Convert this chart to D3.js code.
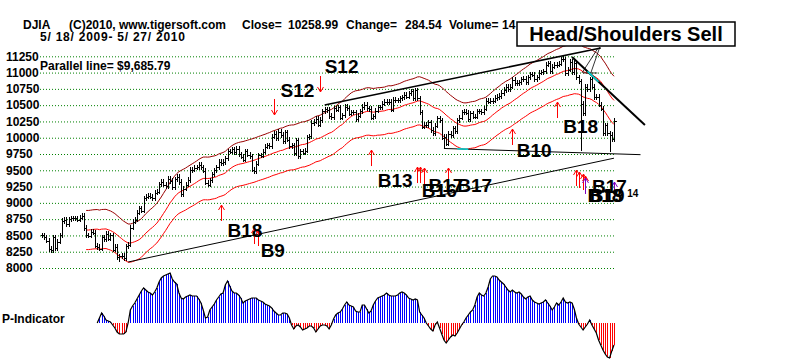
<!DOCTYPE html>
<html>
<head>
<meta charset="utf-8">
<script src="https://cdn.jsdelivr.net/npm/d3@7"></script>
<style>
    body { margin: 0; background: #fff; }
    text { font-family: "Liberation Sans", Arial, sans-serif; font-weight: bold; }
</style>
</head>
<body>
<div id="chart"></div>
<script>
// DJIA daily closes, 5/18/2009 - 5/27/2010, one list per month
var may09 = [8504, 8474, 8422, 8292, 8277, 8473, 8300, 8403, 8500];
var jun09 = [8721, 8741, 8676, 8750, 8764, 8764, 8763, 8739, 8770, 8799, 8613, 8504, 8497, 8555, 8539, 8340, 8323, 8299, 8472, 8438, 8529, 8447];
var jul09 = [8504, 8280, 8324, 8163, 8178, 8183, 8146, 8332, 8359, 8616, 8711, 8743, 8848, 8915, 8881, 9069, 9093, 9108, 9096, 9070, 9154, 9172];
var aug09 = [9286, 9320, 9280, 9256, 9370, 9337, 9241, 9362, 9398, 9321, 9135, 9217, 9279, 9350, 9505, 9509, 9539, 9543, 9580, 9544, 9496];
var sep09 = [9310, 9280, 9344, 9441, 9497, 9547, 9627, 9605, 9626, 9683, 9791, 9783, 9820, 9778, 9829, 9748, 9707, 9665, 9789, 9742, 9712];
var oct09 = [9509, 9487, 9599, 9731, 9725, 9786, 9865, 9885, 9871, 10015, 10062, 9996, 10092, 10041, 9949, 10081, 9972, 9868, 9882, 9762, 9962, 9713];
var nov09 = [9789, 9771, 9802, 10006, 10023, 10226, 10247, 10292, 10197, 10271, 10406, 10437, 10426, 10332, 10318, 10450, 10433, 10464, 10310, 10345];
var dec09 = [10471, 10452, 10366, 10388, 10390, 10286, 10337, 10405, 10471, 10501, 10452, 10441, 10309, 10328, 10414, 10464, 10466, 10520, 10547, 10545, 10548, 10428];
var jan10 = [10583, 10572, 10574, 10606, 10618, 10663, 10627, 10680, 10710, 10610, 10725, 10604, 10389, 10172, 10196, 10194, 10236, 10120, 10067];
var feb10 = [10185, 10297, 10270, 10002, 10012, 9908, 10058, 10038, 10144, 10099, 10268, 10309, 10392, 10402, 10383, 10282, 10374, 10321, 10325];
var mar10 = [10404, 10406, 10396, 10444, 10566, 10552, 10564, 10567, 10611, 10624, 10642, 10686, 10733, 10779, 10742, 10785, 10888, 10836, 10841, 10850, 10895, 10907, 10857];
var apr10 = [10927, 10974, 10969, 10897, 10927, 10997, 11005, 11019, 11123, 11144, 11019, 11092, 11117, 11124, 11134, 11205, 11205, 10991, 11045, 11167, 11008];
var may10 = [11151, 10926, 10868, 10520, 10380, 10785, 10749, 10897, 10782, 10620, 10625, 10510, 10444, 10068, 10193, 10067, 10043, 9975, 10259];

// intraday extremes that stick out of the bars: [day index, price]
var intradayLows = [[35, 8087], [182, 9835], [244, 9790], [257, 9774]];
var intradayHighs = [[236, 11258]];

// y axis tick labels
var priceTicks = [8000, 8250, 8500, 8750, 9000, 9250, 9500, 9750, 10000, 10250, 10500, 10750, 11000, 11250];

// P-Indicator, starts at day 25
var pStart = 25;
var pIndicator = [
    0, 5, 10, 7, 3, 2, 1, -2, -5, -9,
    -11, -11, -11, -9, 0, 13, 17, 20, 24, 28,
    32, 35, 33, 31, 30, 28, 31, 35, 41, 45,
    47, 48, 49, 50, 44, 41, 39, 30, 25, 24,
    26, 27, 28, 27, 27, 27, 24, 20, 13, 5,
    6, 13, 16, 19, 23, 26, 29, 30, 38, 42,
    37, 32, 30, 30, 28, 25, 20, 22, 23, 24,
    25, 25, 25, 23, 22, 21, 19, 18, 17, 15,
    12, 10, 8, 8, 10, 10, 9, 5, -2, -6,
    -3, -2, -4, -7, -6, -5, -3, -3, -5, -9,
    -6, -3, -2, -2, -3, -6, -2, 4, 8, 10,
    11, 14, 18, 21, 18, 17, 16, 12, 11, 11,
    18, 18, 14, 10, 12, 18, 22, 25, 26, 27,
    28, 30, 28, 27, 27, 27, 28, 30, 31, 30,
    28, 25, 24, 23, 24, 23, 11, 8, 5, 0,
    -3, -6, -8, -2, 1, -5, -11, -17, -20, -17,
    -14, -12, -13, -10, -6, -2, 1, 5, 8, 11,
    13, 18, 26, 30, 28, 27, 30, 36, 44, 47,
    47, 46, 43, 41, 39, 36, 33, 31, 33, 31,
    30, 31, 29, 26, 24, 26, 27, 23, 21, 20,
    19, 20, 21, 23, 20, 17, 13, 16, 20, 18,
    21, 25, 21, 20, 21, 20, 14, 5, -1, -4,
    -7, -4, -1, 3, -2, -6, -10, -17, -22, -27,
    -31, -34, -35, -28, -22
];

// signal arrows: [day index, price at arrow head]
var buyArrows = [[81, 8967], [96, 8614], [98, 8583], [149, 9811], [170, 9550], [171, 9550], [173, 9535],
    [184, 9535], [213, 10134], [233, 10548], [242, 9504], [243, 9474], [245, 9443], [246, 9412]];
var otherBuyArrows = [[246, 9382], [259, 9320]];
var sellArrows = [[126, 10702], [105, 10349]];

// signal labels: [text, day index, price at baseline]
var signalLabels = [["S12", 128, 10994], ["S12", 108, 10625], ["B18", 84, 8476], ["B9", 99, 8169],
    ["B13", 152, 9243], ["B16", 172, 9090], ["B17", 175, 9167], ["B17", 188, 9167], ["B10", 215, 9704],
    ["B18", 236, 10072], ["B17", 249, 9151], ["B18", 247, 9013], ["B19", 248, 9013]];

// trend lines: [[day, price], [day, price], color, width]
var trendLines = [
    [[39, 8092], [259, 9686], "black", 1],
    [[128, 10502], [253, 11377], "black", 1.6],
    [[182, 9835], [271, 9740], "black", 1],
    [[240, 11240], [273, 10195], "black", 2],
    [[244.5, 10994], [251.8, 11378], "black", 0.8],
    [[248.5, 10994], [252.6, 11393], "black", 0.8],
    [[245, 10994], [251.5, 10994], "black", 0.8],
    [[188, 9829], [193, 9823], "#00d8d8", 1.5],
    [[247, 11018], [252, 10860], "#00d8d8", 1.5]
];

var closes = [].concat(may09, jun09, jul09, aug09, sep09, oct09, nov09, dec09, jan10, feb10, mar10, apr10, may10);

var width = 800, height = 361;
var svg = d3.select("#chart")
    .append("svg")
    .attr("width", width)
    .attr("height", height);

svg.append("rect").attr("width", width).attr("height", height).attr("fill", "white");

var x = d3.scaleLinear().domain([0, closes.length - 1]).range([42, 614]);
var y = d3.scaleLinear().domain([8000, 11250]).range([268, 56.3]);
var pY = d3.scaleLinear().domain([0, 50]).range([323, 273]);

// grid lines + price labels
var gy = svg.append("g")
    .attr("transform", "translate(40,0)")
    .call(d3.axisLeft(y).tickValues(priceTicks).tickSize(-575).tickPadding(0).tickFormat(d3.format("d")));
gy.select(".domain").remove();
gy.attr("font-family", null).attr("font-size", 12);
gy.selectAll("line").attr("stroke", "#008000").attr("stroke-dasharray", "1,2");
gy.selectAll("text").attr("x", -34).attr("text-anchor", "start").attr("fill", "black");

// 21-day moving average with 3.5% bands
var ma = closes.map(function(c, i) {
    return i < 20 ? null : d3.mean(closes.slice(i - 20, i + 1));
});
var bandLine = function(k) {
    return d3.line()
        .defined(function(d) { return d != null; })
        .x(function(d, i) { return x(i); })
        .y(function(d) { return y(d * k); });
};
svg.append("path").datum(ma).attr("d", bandLine(1.035)).attr("fill", "none").attr("stroke", "#990000");
svg.append("path").datum(ma).attr("d", bandLine(1)).attr("fill", "none").attr("stroke", "red");
svg.append("path").datum(ma).attr("d", bandLine(0.965)).attr("fill", "none").attr("stroke", "red");

// daily bars (open = previous close)
var wick = 40;
var bars = closes.map(function(c, i) {
    var o = i > 0 ? closes[i - 1] : c;
    var d = { i: i, o: o, c: c, hi: Math.max(o, c) + wick, lo: Math.min(o, c) - wick };
    intradayLows.forEach(function(e) { if (e[0] === i) d.lo = e[1]; });
    intradayHighs.forEach(function(e) { if (e[0] === i) d.hi = e[1]; });
    return d;
});
svg.append("g")
    .selectAll("path")
    .data(bars)
    .enter()
    .append("path")
    .attr("d", function(d) {
        var px = Math.round(x(d.i)) + 0.5;
        var yo = Math.round(y(d.o)) + 0.5, yc = Math.round(y(d.c)) + 0.5;
        return `M${px},${Math.round(y(d.hi))}V${Math.round(y(d.lo))}M${px - 2},${yo}H${px}M${px},${yc}H${px + 2}`;
    })
    .attr("fill", "none")
    .attr("stroke", "black")
    .attr("shape-rendering", "crispEdges");

// trend lines
svg.append("g")
    .selectAll("line")
    .data(trendLines)
    .enter()
    .append("line")
    .attr("x1", function(d) { return x(d[0][0]); })
    .attr("y1", function(d) { return y(d[0][1]); })
    .attr("x2", function(d) { return x(d[1][0]); })
    .attr("y2", function(d) { return y(d[1][1]); })
    .attr("stroke", function(d) { return d[2]; })
    .attr("stroke-width", function(d) { return d[3]; });

// arrows
function arrow(list, color, dir) {
    svg.append("g")
        .selectAll("path")
        .data(list)
        .enter()
        .append("path")
        .attr("d", function(d) {
            var ax = Math.round(x(d[0])) + 0.5, ay = y(d[1]);
            return `M${ax},${ay}V${ay + dir * 16}M${ax - 3},${ay + dir * 5}L${ax},${ay}L${ax + 3},${ay + dir * 5}`;
        })
        .attr("fill", "none")
        .attr("stroke", color);
}
arrow(buyArrows, "red", 1);
arrow(otherBuyArrows, "#8000c0", 1);
arrow(sellArrows, "red", -1);

// signal labels
svg.append("g")
    .selectAll("text")
    .data(signalLabels)
    .enter()
    .append("text")
    .attr("x", function(d) { return x(d[1]); })
    .attr("y", function(d) { return y(d[2]); })
    .attr("font-size", 19)
    .attr("fill", "black")
    .text(function(d) { return d[0]; });
svg.append("text").attr("x", x(265)).attr("y", y(9090)).attr("font-size", 10).text("14");

// P-Indicator
svg.append("g")
    .selectAll("line")
    .data(pIndicator)
    .enter()
    .append("line")
    .attr("x1", function(d, i) { return Math.round(x(pStart + i)) + 0.5; })
    .attr("x2", function(d, i) { return Math.round(x(pStart + i)) + 0.5; })
    .attr("y1", pY(0))
    .attr("y2", function(d) { return pY(d); })
    .attr("stroke", function(d) { return d < 0 ? "red" : "blue"; })
    .attr("shape-rendering", "crispEdges");
svg.append("path")
    .datum(pIndicator)
    .attr("d", d3.line().x(function(d, i) { return x(pStart + i); }).y(function(d) { return pY(d); }))
    .attr("fill", "none")
    .attr("stroke", "black")
    .attr("stroke-width", 1.2);
svg.append("text").attr("x", 2).attr("y", 323).attr("font-size", 12).text("P-Indicator");

// header
var header = [["DJIA", 23], ["(C)2010, www.tigersoft.com", 69], ["Close=", 242], ["10258.99", 288],
    ["Change=", 346], ["284.54", 405], ["Volume=", 449], ["14", 502]];
svg.append("g")
    .selectAll("text")
    .data(header)
    .enter()
    .append("text")
    .attr("x", function(d) { return d[1]; })
    .attr("y", 29)
    .attr("font-size", 12)
    .text(function(d) { return d[0]; });
svg.append("text").attr("x", 40).attr("y", 41).attr("font-size", 12)
    .attr("textLength", 145).attr("lengthAdjust", "spacing").text("5/ 18/ 2009- 5/ 27/ 2010");
svg.append("text").attr("x", 40).attr("y", 70).attr("font-size", 12).text("Parallel line= $9,685.79");

// title box
svg.append("rect")
    .attr("x", 517).attr("y", 22).attr("width", 218).attr("height", 24)
    .attr("fill", "white").attr("stroke", "black").attr("stroke-width", 1.5);
svg.append("text")
    .attr("x", 626).attr("y", 41)
    .attr("text-anchor", "middle")
    .attr("font-size", 20)
    .text("Head/Shoulders Sell");
</script>
</body>
</html>
